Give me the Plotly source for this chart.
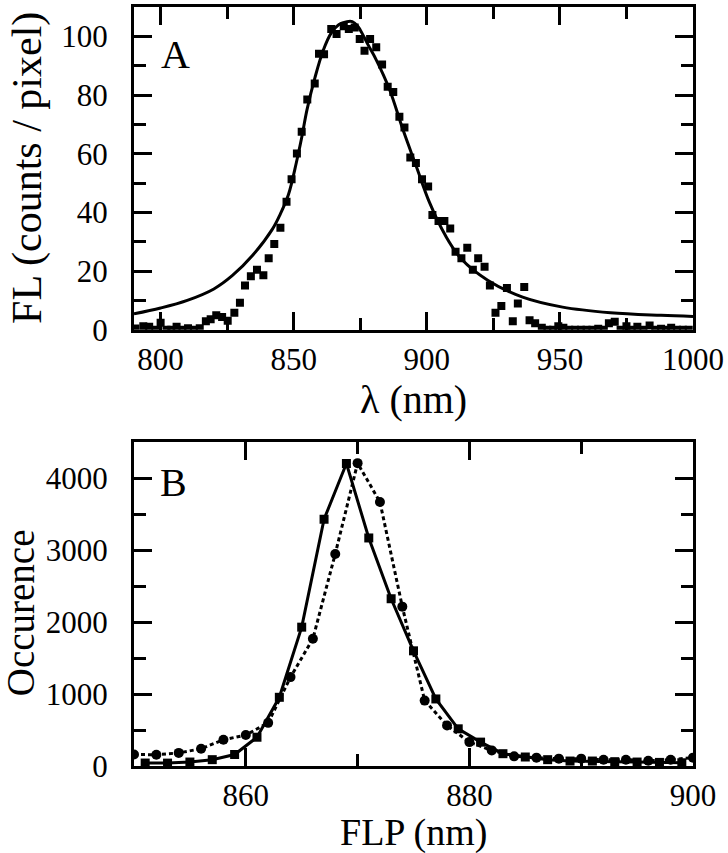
import plotly.graph_objects as go
from plotly.subplots import make_subplots

# ---------------- Panel A data ----------------
fl_wavelength = [790.5, 793.5, 795.7, 798.0, 800.0, 802.2, 804.0, 806.0, 808.2, 810.3, 812.5, 814.7,
                 817.0, 818.8, 820.9, 823.1, 825.2, 827.7, 829.8, 831.7, 833.9, 836.2,
                 838.6, 840.6, 842.7, 845.0, 847.3, 849.2, 851.2, 853.0, 855.1, 857.9,
                 859.5, 861.4, 864.1, 866.1, 868.8, 870.7, 872.9, 874.8, 876.6, 878.7,
                 881.0, 883.2, 885.3, 887.4, 889.7, 891.6, 893.8, 895.9, 898.2, 900.5,
                 902.1, 904.4, 906.6, 908.8, 910.8, 913.0, 915.2, 917.3, 919.3, 921.7,
                 923.7, 925.8, 928.0, 930.1, 932.3, 934.2, 936.6, 938.6, 940.7, 943.2,
                 945.3, 947.4, 949.4, 951.3, 953.5, 955.7, 957.9, 960.0, 962.2, 964.4,
                 966.5, 968.4, 970.6, 972.8, 975.0, 977.0, 979.1, 981.4, 983.7, 985.8,
                 988.0, 989.9, 991.8, 994.0, 996.2, 998.4]
fl_counts = [0.4, 1.2, 1.0, 0.0, 2.4, 0.0, 0.0, 1.0, 0.0, 0.5, 0.0, 0.5,
             2.9, 3.6, 4.9, 4.3, 3.1, 5.8, 9.2, 15.1, 18.2, 20.4,
             18.6, 24.4, 29.2, 34.8, 43.6, 51.3, 60.1, 67.5, 78.5, 83.9,
             94.1, 93.9, 102.5, 100.8, 103.4, 102.5, 103.0, 99.1, 95.1, 99.1,
             96.3, 90.4, 82.8, 81.0, 72.6, 68.9, 58.7, 56.8, 51.3, 48.8,
             39.1, 37.1, 37.1, 34.5, 26.6, 24.4, 27.9, 20.4, 24.4, 21.5,
             15.1, 5.8, 8.1, 14.2, 2.9, 8.9, 14.6, 3.2, 2.2, 0.7,
             0.0, 0.0, 1.2, 0.7, 0.0, 0.0, 0.0, 0.0, 0.0, 0.3,
             0.0, 2.2, 2.7, 0.0, 1.2, 0.0, 1.0, 0.0, 1.4, 0.0,
             0.3, 0.0, 0.7, 0.0, 0.0, 0.0]

fit_wavelength = [790, 800, 810, 820, 827, 834.5, 842, 845, 848, 851, 853, 855, 858, 861,
                  864, 867, 870, 872, 874, 876, 878, 881, 886, 891, 896, 901, 907,
                  913, 923, 936, 951, 969, 988, 1000]
fit_counts = [5.4, 7.4, 10.0, 13.9, 18.5, 25.3, 34.3, 39.5, 46.0, 57.0, 65.5, 75.0, 86.0, 95.0,
              101.0, 104.0, 105.0, 105.0, 103.5, 100.5, 97.0, 92.0, 81.9, 68.3, 55.8, 43.4, 32.1,
              24.1, 16.8, 11.1, 7.7, 5.8, 4.9, 4.5]

# ---------------- Panel B data ----------------
flp_sq = [851, 853, 855, 857, 859, 861, 863, 865, 867, 869, 871, 873, 875, 877,
          879, 881, 883, 885, 887, 889, 891, 893, 895, 897, 899]
occ_sq = [41, 40, 55, 88, 160, 400, 955, 1930, 3430, 4205, 3170, 2325, 1601, 932,
          517, 332, 171, 125, 88, 69, 69, 60, 55, 50, 45]

flp_ci = [850, 852, 854, 856, 858, 860, 862, 864, 866, 868, 870, 872, 874, 876,
          878, 880, 882, 884, 886, 888, 890, 892, 894, 896, 898, 900]
occ_ci = [160, 157, 182, 240, 365, 430, 600, 1236, 1768, 2948, 4210, 3670, 2215, 909,
          563, 332, 217, 134, 116, 102, 102, 88, 88, 74, 88, 116]

FONT = "Liberation Serif"

W, H = 728, 853
ML, MR, MT, MB = 134, 32, 4, 87
PW, PH = W - ML - MR, H - MT - MB


def px_x(px):
    return (px - ML) / PW


def px_y(py):
    return (H - MB - py) / PH


fig = make_subplots(rows=2, cols=1)

fig.add_trace(go.Scatter(x=fl_wavelength, y=fl_counts, mode="markers",
                         marker=dict(symbol="square", size=8, color="black"),
                         showlegend=False), row=1, col=1)
fig.add_trace(go.Scatter(x=fit_wavelength, y=fit_counts, mode="lines",
                         line=dict(color="black", width=3, shape="spline", smoothing=1.0),
                         showlegend=False), row=1, col=1)

fig.add_trace(go.Scatter(x=flp_ci, y=occ_ci, mode="lines+markers",
                         marker=dict(symbol="circle", size=10, color="black"),
                         line=dict(color="black", width=3, dash="4px,3px"),
                         showlegend=False), row=2, col=1)
fig.add_trace(go.Scatter(x=flp_sq, y=occ_sq, mode="lines+markers",
                         marker=dict(symbol="square", size=9, color="black"),
                         line=dict(color="black", width=3),
                         showlegend=False), row=2, col=1)

axis_common = dict(showline=True, linecolor="black", linewidth=3, mirror="ticks",
                   ticks="inside", ticklen=18, tickwidth=3, tickcolor="black",
                   showgrid=False, zeroline=False,
                   tickfont=dict(family=FONT, size=31, color="black"))

yA_dom = [px_y(328), 1.0]
yB_dom = [0.0, px_y(441)]

fig.update_xaxes(**axis_common, range=[790, 1000], tick0=800, dtick=50,
                 minor=dict(ticks="inside", ticklen=12, tickwidth=3, tickcolor="black", dtick=25, tick0=800),
                 ticklabelstandoff=0, row=1, col=1)
fig.update_yaxes(**axis_common, range=[0, 110], tick0=0, dtick=20, domain=yA_dom,
                 minor=dict(ticks="inside", ticklen=12, tickwidth=3, tickcolor="black", dtick=10, tick0=0),
                 ticklabelstandoff=17, row=1, col=1)
fig.update_xaxes(**axis_common, range=[850, 900], tick0=860, dtick=20,
                 minor=dict(ticks="inside", ticklen=12, tickwidth=3, tickcolor="black", dtick=10, tick0=850),
                 ticklabelstandoff=0, row=2, col=1)
fig.update_yaxes(**axis_common, range=[0, 4500], tick0=0, dtick=1000, domain=yB_dom,
                 minor=dict(ticks="inside", ticklen=12, tickwidth=3, tickcolor="black", dtick=500, tick0=0),
                 ticklabelstandoff=17, row=2, col=1)
fig.update_xaxes(domain=[0, 1])

annots = [
    dict(text="A", x=px_x(176), y=px_y(52), font=dict(family=FONT, size=40, color="black")),
    dict(text="B", x=px_x(174), y=px_y(481), font=dict(family=FONT, size=40, color="black")),
    dict(text="λ (nm)", x=px_x(415), y=px_y(398), font=dict(family=FONT, size=40, color="black")),
    dict(text="FLP (nm)", x=px_x(415), y=px_y(833), font=dict(family=FONT, size=38, color="black")),
    dict(text="FL (counts / pixel)", x=px_x(27), y=px_y(166), textangle=-90,
         font=dict(family=FONT, size=42, color="black")),
    dict(text="Occurence", x=px_x(20), y=px_y(612), textangle=-90,
         font=dict(family=FONT, size=39, color="black")),
]
for a in annots:
    a.update(xref="paper", yref="paper", showarrow=False, xanchor="center", yanchor="middle")

fig.update_layout(width=W, height=H, margin=dict(l=ML, r=MR, t=MT, b=MB),
                  paper_bgcolor="white", plot_bgcolor="white", annotations=annots,
                  font=dict(family=FONT, color="black"))

fig.write_html("out.html", config={"displayModeBar": False},
               post_script="document.body.style.margin='0px';")
